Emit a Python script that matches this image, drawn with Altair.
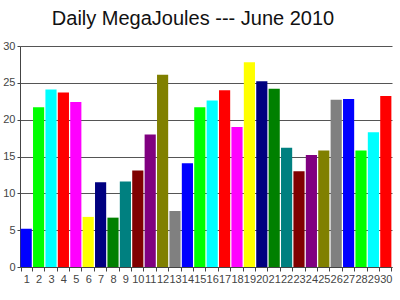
import altair as alt
import pandas as pd

days = list(range(1, 31))
values = [5.2, 21.7, 24.1, 23.7, 22.4, 6.8, 11.5, 6.7, 11.6, 13.1,
          18.0, 26.1, 7.6, 14.1, 21.7, 22.6, 24.0, 19.0, 27.8, 25.2,
          24.2, 16.2, 13.0, 15.2, 15.8, 22.7, 22.8, 15.8, 18.3, 23.2]
palette = ["#0000FF", "#00FF00", "#00FFFF", "#FF0000", "#FF00FF", "#FFFF00",
           "#000080", "#008000", "#008080", "#800000", "#800080", "#808000",
           "#808080"]
colors = [palette[i % len(palette)] for i in range(len(days))]

df = pd.DataFrame({"day": days, "mj": values, "color": colors})

chart = alt.Chart(df).mark_bar().encode(
    x=alt.X("day:O", title=None,
            scale=alt.Scale(paddingInner=0.1, paddingOuter=0.05),
            axis=alt.Axis(labelAngle=0, tickBand="extent", tickSize=4,
                          labelOverlap=False, labelFontSize=11,
                          labelColor="#444", labelPadding=2,
                          domainColor="#444", tickColor="#444", grid=False,
                          labelFont="Liberation Sans")),
    y=alt.Y("mj:Q", title=None,
            scale=alt.Scale(domain=[0, 30]),
            axis=alt.Axis(values=[0, 5, 10, 15, 20, 25, 30], tickSize=3,
                          labelFontSize=11, labelColor="#444", labelPadding=2,
                          domainColor="#444", tickColor="#444",
                          gridColor="#555", gridOpacity=1, gridWidth=1,
                          labelFont="Liberation Sans")),
    color=alt.Color("color:N", scale=None),
).properties(
    width=372, height=221,
    title=alt.TitleParams("Daily MegaJoules --- June 2010", fontSize=20,
                          font="Liberation Sans", fontWeight="normal",
                          color="#111", anchor="middle", dx=-13, offset=11),
    autosize=alt.AutoSizeParams(type="none"),
    padding={"left": 20, "top": 46, "right": 8, "bottom": 33},
).configure_view(stroke=None)

chart.save("out.html", embed_options={"renderer": "svg", "actions": False})
